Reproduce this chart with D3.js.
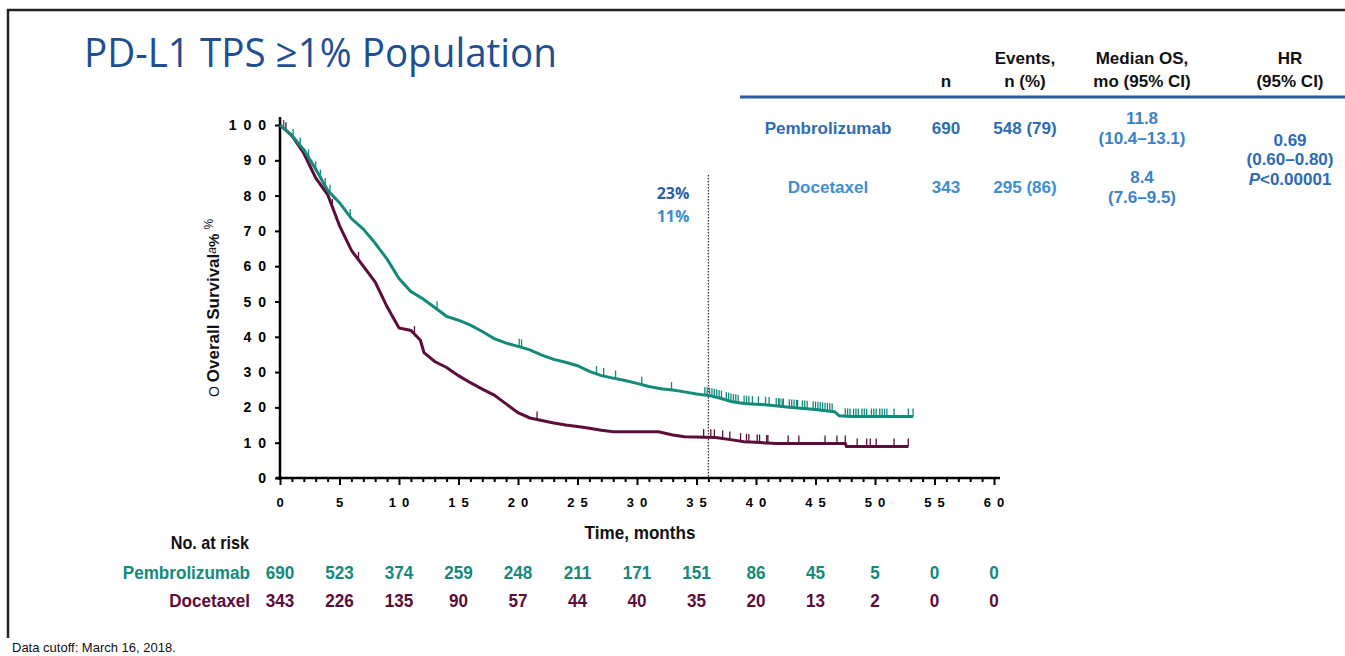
<!DOCTYPE html>
<html>
<head>
<meta charset="utf-8">
<script src="https://cdn.jsdelivr.net/npm/d3@7"></script>
<style>
  body { margin: 0; background: #fff; }
  svg { display: block; }
</style>
</head>
<body>
<div id="chart"></div>
<script>
// KM curves (months, % surviving)
const pembroTime = [0, 1, 2, 3, 4, 5, 6, 7, 8, 9, 10, 11, 12, 13, 14, 15, 16, 17, 18, 19, 20, 21, 22, 23, 24, 25, 26, 27, 28, 29, 30, 31, 32, 33, 34, 35, 36, 37, 38, 39, 40, 41, 42, 43, 44, 45, 46, 46.6, 47, 48, 53.2];
const pembroSurv = [100, 97, 93, 87.5, 81.5, 78, 73.5, 70.5, 66.5, 62, 56.5, 52.8, 50.8, 48.3, 45.8, 44.7, 43.3, 41.5, 39.5, 38.2, 37.3, 36.3, 34.8, 33.6, 32.8, 31.8, 30.2, 29, 28.3, 27.6, 26.8, 25.9, 25.3, 24.9, 24.4, 23.8, 23.4, 22.6, 21.6, 21.1, 20.9, 20.7, 20.3, 20, 19.7, 19.4, 19, 18.8, 17.6, 17.4, 17.4];

const docTime = [0, 1, 2, 3, 4, 5, 6, 7, 8, 9, 10, 11, 11.8, 12.1, 13, 14, 15, 16, 17, 18, 19, 20, 21, 22, 23, 24, 25, 26, 27, 28, 31.8, 33, 34, 36.6, 38, 39, 40, 41.7, 47.5, 47.6, 52.8];
const docSurv = [100, 97, 92, 85, 80.3, 71.5, 64.5, 60, 55.5, 48.5, 42.5, 41.8, 39, 35.5, 33, 31.3, 29, 27, 25.2, 23.5, 21, 18.5, 17, 16.3, 15.6, 15, 14.6, 14.1, 13.5, 13.1, 13.1, 12.2, 11.7, 11.5, 10.8, 10.3, 10.1, 9.8, 9.8, 8.9, 8.9];

// censor marks (months)
const pembroCensor = [0.3, 1.1, 1.7, 2.4, 3.0, 3.4, 3.8, 4.2, 5.9, 13.2, 20.1, 20.3, 26.6, 27.2, 28.2, 30.4, 32.9,
  35.7, 35.9, 36.1, 36.3, 36.5, 36.7, 36.9, 37.1, 37.5, 37.7, 37.9, 38.1, 38.3, 38.5, 39.0, 39.2, 39.4, 39.7,
  40.2, 40.8, 41.1, 41.7, 41.9, 42.0, 42.2, 42.3, 42.8, 43.0, 43.2, 43.4, 43.5, 43.9, 44.1, 44.3,
  44.8, 45.0, 45.2, 45.4, 45.6, 45.8, 46.0, 46.2, 46.4, 47.5, 47.7, 47.9, 48.2, 48.4, 48.6, 48.9, 49.1, 49.3,
  49.7, 49.9, 50.1, 50.4, 50.6, 50.8, 51.0, 51.6, 52.8, 53.2];
const docCensor = [0.3, 0.5, 4.4, 6.6, 11.3, 21.6, 35.6, 36.2, 36.5, 37.2, 37.8, 38.7, 39.2, 39.4, 40.1, 40.3, 40.9, 41.0,
  42.7, 43.6, 45.8, 46.8, 47.5, 48.5, 49.3, 49.6, 50.1, 51.6, 52.8];

const landmark = 36;
const landmarkLabels = ['23%', '11%'];

const xTicks = d3.range(0, 61, 5);
const yTicks = d3.range(0, 101, 10);
const riskTimes = [0, 5, 10, 15, 20, 25, 30, 35, 40, 45, 50, 55, 60];
const pembroRisk = [690, 523, 374, 259, 248, 211, 171, 151, 86, 45, 5, 0, 0];
const docRisk = [343, 226, 135, 90, 57, 44, 40, 35, 20, 13, 2, 0, 0];

const tableHead = [['n'], ['Events,', 'n (%)'], ['Median OS,', 'mo (95% CI)'], ['HR', '(95% CI)']];
const pembroRow = ['Pembrolizumab', '690', '548 (79)', '11.8', '(10.4–13.1)'];
const docRow = ['Docetaxel', '343', '295 (86)', '8.4', '(7.6–9.5)'];
const hrText = ['0.69', '(0.60–0.80)'];

const W = 1345, H = 656;
const teal = '#138a7a', maroon = '#5c0d3a';
const arial = 'Liberation Sans, Arial, sans-serif';

const svg = d3.select('#chart').append('svg')
    .attr('width', W)
    .attr('height', H);

// frame
svg.append('path')
    .attr('d', `M8,638 V10 H${W}`)
    .attr('fill', 'none')
    .attr('stroke', '#222')
    .attr('stroke-width', 2.5);

svg.append('text')
    .attr('x', 84).attr('y', 67)
    .attr('font-family', 'Open Sans, sans-serif')
    .attr('font-size', 40)
    .attr('fill', '#1f4f93')
    .attr('textLength', 473)
    .attr('lengthAdjust', 'spacingAndGlyphs')
    .text('PD-L1 TPS ≥1% Population');

const x = d3.scaleLinear().domain([0, 60]).range([280, 994]);
const y = d3.scaleLinear().domain([0, 100]).range([478, 125]);

// axes
const xAxis = svg.append('g')
    .attr('transform', 'translate(0,478)')
    .call(d3.axisBottom(x).tickValues(d3.range(0, 61, 1)).tickSize(4).tickFormat(''));
xAxis.selectAll('.tick line')
    .attr('stroke-width', 2)
    .attr('y2', d => d % 5 === 0 ? 7 : 4);
xAxis.select('.domain').attr('d', `M276,0 H1000`).attr('stroke-width', 2.5);

svg.append('g')
    .selectAll('text')
    .data(xTicks)
    .join('text')
    .attr('x', d => x(d) + 3)
    .attr('y', 507)
    .attr('text-anchor', 'middle')
    .attr('font-family', arial)
    .attr('font-weight', 'bold')
    .attr('font-size', 13)
    .attr('letter-spacing', 6)
    .text(d => d);

const yAxis = svg.append('g')
    .attr('transform', 'translate(280,0)')
    .call(d3.axisLeft(y).tickValues(yTicks).tickSize(5).tickFormat(''));
yAxis.selectAll('.tick line').attr('stroke-width', 2);
yAxis.select('.domain').attr('d', 'M0,117 V480').attr('stroke-width', 2.5);

svg.append('g')
    .selectAll('text')
    .data(yTicks)
    .join('text')
    .attr('x', 273)
    .attr('y', d => y(d) + 5)
    .attr('text-anchor', 'end')
    .attr('font-family', arial)
    .attr('font-weight', 'bold')
    .attr('font-size', 14)
    .attr('letter-spacing', 7)
    .text(d => d);

// y title
const yt = svg.append('text')
    .attr('transform', 'translate(219,397) rotate(-90)')
    .attr('font-family', arial)
    .attr('fill', '#111');
yt.append('tspan').attr('font-size', 14).text('O ');
yt.append('tspan').attr('font-size', 17).attr('font-weight', 'bold').text('Overall Survival');
yt.append('tspan').attr('font-size', 12).attr('font-style', 'italic').attr('dy', -3).text('a');
yt.append('tspan').attr('font-size', 15).attr('font-weight', 'bold').attr('dy', 3).text('% ');
yt.append('tspan').attr('font-size', 12).attr('dy', -6).text('%');

// landmark
svg.append('line')
    .attr('x1', x(landmark)).attr('x2', x(landmark))
    .attr('y1', 175).attr('y2', 478)
    .attr('stroke', '#333')
    .attr('stroke-width', 1.3)
    .attr('stroke-dasharray', '1.5,1.5');
svg.selectAll('.lm')
    .data(landmarkLabels)
    .join('text')
    .attr('class', 'lm')
    .attr('x', x(landmark) - 19)
    .attr('y', (d, i) => 199 + i * 23)
    .attr('text-anchor', 'end')
    .attr('font-family', 'Open Sans, sans-serif')
    .attr('font-weight', 'bold')
    .attr('font-size', 16)
    .attr('fill', (d, i) => i === 0 ? '#2a5ea8' : '#3a8dd0')
    .text(d => d);

// curves
const line = d3.line()
    .x(d => x(d[0]))
    .y(d => y(d[1]));

function interp(times, surv, t) {
    const i = d3.bisectRight(times, t) - 1;
    if (i >= times.length - 1) return surv[surv.length - 1];
    const f = (t - times[i]) / (times[i + 1] - times[i]);
    return surv[i] + f * (surv[i + 1] - surv[i]);
}

function drawSeries(times, surv, censor, color) {
    svg.append('path')
        .datum(times.map((t, i) => [t, surv[i]]))
        .attr('d', line)
        .attr('fill', 'none')
        .attr('stroke', color)
        .attr('stroke-width', 3);
    svg.append('g')
        .selectAll('line')
        .data(censor)
        .join('line')
        .attr('x1', d => x(d)).attr('x2', d => x(d))
        .attr('y1', d => y(interp(times, surv, d)))
        .attr('y2', d => y(interp(times, surv, d)) - 8)
        .attr('stroke', color)
        .attr('stroke-width', 1.3);
}
drawSeries(docTime, docSurv, docCensor, maroon);
drawSeries(pembroTime, pembroSurv, pembroCensor, teal);

// condensed-looking text: squeeze horizontally
function narrowText(g, tx, ty, s, opts) {
    return g.append('text')
        .attr('transform', `translate(${tx},${ty}) scale(0.9,1)`)
        .attr('text-anchor', opts.anchor || 'middle')
        .attr('font-family', arial)
        .attr('font-weight', 'bold')
        .attr('font-size', opts.size || 19)
        .attr('fill', opts.fill || '#111')
        .text(s);
}

narrowText(svg, 640, 539, 'Time, months', { size: 19 });
narrowText(svg, 249, 549, 'No. at risk', { size: 18, anchor: 'end' });

[[pembroRisk, 'Pembrolizumab', teal, 579], [docRisk, 'Docetaxel', maroon, 607]].forEach(([vals, name, color, yy]) => {
    narrowText(svg, 250, yy, name, { anchor: 'end', fill: color });
    vals.forEach((v, i) => narrowText(svg, x(riskTimes[i]), yy, v, { fill: color }));
});

// summary table
const colX = [946, 1025, 1142, 1290];
const tbl = svg.append('g')
    .attr('font-family', arial)
    .attr('font-weight', 'bold')
    .attr('font-size', 17)
    .attr('text-anchor', 'middle');

tableHead.forEach((lines, c) => {
    lines.forEach((s, k) => {
        tbl.append('text')
            .attr('x', colX[c])
            .attr('y', lines.length === 1 ? 87 : 64 + k * 23)
            .attr('fill', '#111')
            .text(s);
    });
});
svg.append('line')
    .attr('x1', 740).attr('x2', W)
    .attr('y1', 97).attr('y2', 97)
    .attr('stroke', '#2d5d9b')
    .attr('stroke-width', 3);

function row(vals, color, yy) {
    tbl.append('text').attr('x', 828).attr('y', yy).attr('fill', color).text(vals[0]);
    tbl.append('text').attr('x', colX[0]).attr('y', yy).attr('fill', color).text(vals[1]);
    tbl.append('text').attr('x', colX[1]).attr('y', yy).attr('fill', color).text(vals[2]);
    tbl.append('text').attr('x', colX[2]).attr('y', yy - 10).attr('fill', '#3a82c8').text(vals[3]);
    tbl.append('text').attr('x', colX[2]).attr('y', yy + 10).attr('fill', '#3a82c8').text(vals[4]);
}
row(pembroRow, '#2c6cb4', 134);
row(docRow, '#3b8fd3', 193);

hrText.forEach((s, k) => {
    tbl.append('text').attr('x', colX[3]).attr('y', 146 + k * 19).attr('fill', '#2c6cb4').text(s);
});
const pv = tbl.append('text').attr('x', colX[3]).attr('y', 185).attr('fill', '#2c6cb4');
pv.append('tspan').attr('font-style', 'italic').text('P');
pv.append('tspan').text('<0.00001');

svg.append('text')
    .attr('x', 12).attr('y', 652)
    .attr('font-family', arial)
    .attr('font-size', 13)
    .attr('fill', '#111')
    .text('Data cutoff: March 16, 2018.');
</script>
</body>
</html>
